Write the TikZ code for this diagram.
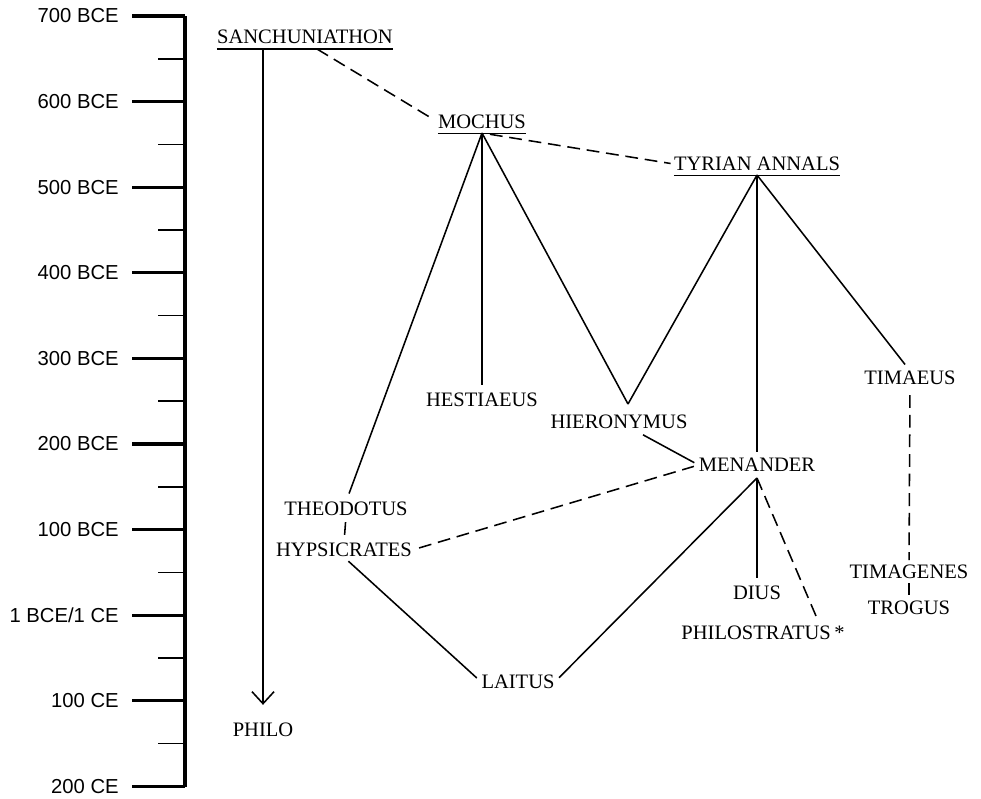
\documentclass[tikz,border=0pt]{standalone}
\usepackage{fontspec}
\setmainfont{Liberation Serif}
\newfontfamily\axisfont{Liberation Sans}
\usetikzlibrary{arrows.meta, positioning}
\tikzset{%
	source/.style={
		font=\fontsize{14.6}{16}\selectfont,
		inner sep=0pt
	},
	year/.style={
		font=\axisfont\fontsize{14.4}{16}\selectfont,
		inner sep=0pt,
		anchor=east
	},
	link/.style={line width=1.1pt},
	doubtful/.style={line width=1.1pt, dash pattern=on 0.32cm off 0.17cm},
}

\begin{document}
\begin{tikzpicture}[x=0.025cm, y=-0.025cm]
			\useasboundingbox (0,0) rectangle (981,798);
			
			% Time axis
			\draw[line width=2.2pt] (185,16) -- (185,787);
			\foreach \k/\lab in {0/700 BCE, 1/600 BCE, 2/500 BCE, 3/400 BCE, 4/300 BCE, 5/200 BCE, 6/100 BCE, 7/{1 BCE/1 CE}, 8/100 CE, 9/200 CE} {
				\draw[line width=2.2pt] (132,{16+\k*85.6}) -- (185,{16+\k*85.6});
				\node[year] (year\k) at (119,{16+\k*85.6}) {\lab};
			}
			\foreach \k in {0,...,8}
				\draw[line width=1.1pt] (158,{16+(\k+0.5)*85.6}) -- (185,{16+(\k+0.5)*85.6});
			
			% Sources
			\node[source] (sanch) at (305,37) {SANCHUNIATHON};
			\node[source] (mochus) at (482,122) {MOCHUS};
			\node[source] (tyrian) at (757,164) {TYRIAN ANNALS};
			\node[source] (hestiaeus) at (482,400) {HESTIAEUS};
			\node[source] (hieronymus) at (619,422) {HIERONYMUS};
			\node[source] (timaeus) at (910,378) {TIMAEUS};
			\node[source] (menander) at (757,465) {MENANDER};
			\node[source] (theodotus) at (346,509) {THEODOTUS};
			\node[source] (hypsicrates) at (344,550) {HYPSICRATES};
			\node[source] (dius) at (757,593) {DIUS};
			\node[source] (philostratus) at (763,633) {PHILOSTRATUS\,*};
			\node[source] (timagenes) at (909,572) {TIMAGENES};
			\node[source] (trogus) at (909,608) {TROGUS};
			\node[source] (laitus) at (518,682) {LAITUS};
			\node[source] (philo) at (263,730) {PHILO};
			
			% Underlined primary sources
			\draw[link] ([yshift=-3.5pt]sanch.south west) -- ([yshift=-3.5pt]sanch.south east);
			\draw[link] ([yshift=-3pt]mochus.south west) -- ([yshift=-3pt]mochus.south east);
			\draw[link] ([yshift=-3pt]tyrian.south west) -- ([yshift=-3pt]tyrian.south east);
			
			\coordinate (sanch root) at (263,49);
			\coordinate (sanch fork) at (317,49);
			\coordinate (mochus root) at (482,133);
			\coordinate (tyrian root) at (757,175);
			\coordinate (hier top) at (628,404);
			\coordinate (menander foot) at (757,478);
			
			% Sanchuniathon
			\draw[link, -{Straight Barb[length=0.3cm, width=0.55cm]}, shorten >=0.45cm] (sanch root) -- (philo.north);
			\draw[doubtful, shorten >=0.2cm] (sanch fork) -- (mochus.west);
			
			% Mochus
			\draw[doubtful, shorten <=0.2cm, shorten >=0.08cm] (mochus root) -- (tyrian.west);
			\draw[link, shorten >=0.22cm] (mochus root) -- (theodotus.north);
			\draw[link, shorten >=0.2cm] (mochus root) -- (hestiaeus.north);
			\draw[link] (mochus root) -- (hier top);
			
			% Tyrian Annals
			\draw[link] (tyrian root) -- (hier top);
			\draw[link, shorten >=0.15cm] (tyrian root) -- (menander.north);
			\draw[link, shorten >=0.2cm] (tyrian root) -- (timaeus.north);
			
			% Menander
			\draw[link, shorten >=0.12cm] ([xshift=0.6cm, yshift=-4pt]hieronymus.south) -- (menander.west);
			\draw[doubtful, shorten <=0.18cm, shorten >=0.12cm] (hypsicrates.east) -- (menander.west);
			\draw[link, shorten >=0.15cm] (menander foot) -- (laitus.east);
			\draw[link, shorten >=0.2cm] (menander foot) -- (dius.north);
			\draw[doubtful, shorten >=0.15cm] (menander foot) -- ([xshift=1.43cm]philostratus.north);
			
			% Theodotus and Hypsicrates
			\draw[link, shorten <=0.15cm, shorten >=0.2cm] (theodotus.south) -- (hypsicrates.north);
			\draw[link, shorten <=0.15cm, shorten >=0.15cm] (hypsicrates.south) -- (laitus.west);
			
			% Timaeus
			\draw[doubtful, shorten <=0.25cm, shorten >=0.12cm] (timaeus.south) -- (timagenes.north);
			\draw[link, shorten <=0.1cm, shorten >=0.15cm] (timagenes.south) -- (trogus.north);
			
\end{tikzpicture}
\end{document}
